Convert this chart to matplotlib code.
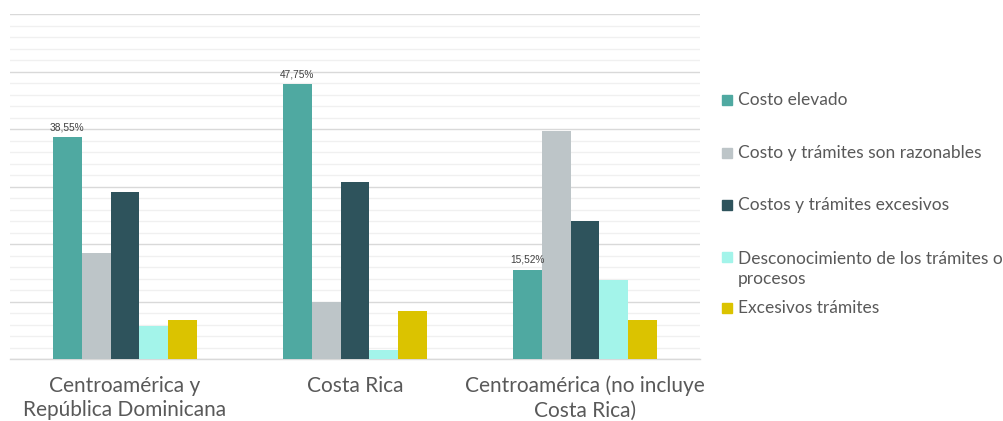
import matplotlib
matplotlib.use("Agg")
import matplotlib.pyplot as plt
import numpy as np
from matplotlib.patches import Rectangle
from matplotlib.ticker import MultipleLocator

categories = ["Centroamérica y\nRepública Dominicana", "Costa Rica", "Centroamérica (no incluye\nCosta Rica)"]
series_names = ["Costo elevado", "Costo y trámites son razonables", "Costos y trámites excesivos",
                "Desconocimiento de los trámites o\nprocesos", "Excesivos trámites"]
costo_elevado = [38.55, 47.75, 15.52]
costo_razonable = [18.5, 10.0, 39.7]
costos_excesivos = [29.05, 30.85, 24.05]
desconocimiento = [5.8, 1.57, 13.8]
excesivos_tramites = [6.8, 8.3, 6.8]
colors = ["#4FA9A1", "#BDC5C8", "#2E535C", "#A3F4EA", "#DBC300"]

values = [costo_elevado, costo_razonable, costos_excesivos, desconocimiento, excesivos_tramites]

W, H = 1004, 421
fig = plt.figure(figsize=(W / 100, H / 100), dpi=100)
ax = fig.add_axes([10 / W, (H - 359) / H, 690 / W, 345 / H])

x = np.arange(len(categories))
bw = 0.126
for i, (vals, col) in enumerate(zip(values, colors)):
    pos = x + (i - 2) * bw
    bars = ax.bar(pos, vals, width=bw, color=col, linewidth=0, zorder=3)
    if i == 0:
        for b, v in zip(bars, vals):
            ax.text(b.get_x() + b.get_width() / 2, v + 0.9, f"{v:.2f}%".replace(".", ","),
                    ha="center", va="bottom", fontsize=7.3,
                    color="#404040", family="Liberation Sans", zorder=4)

ax.set_xlim(-0.5, 2.5)
ax.set_ylim(0, 60)
ax.yaxis.set_major_locator(MultipleLocator(10))
ax.yaxis.set_minor_locator(MultipleLocator(2))
ax.grid(axis="y", which="major", color="#D9D9D9", linewidth=1.0, zorder=0)
ax.grid(axis="y", which="minor", color="#F0F0F0", linewidth=1.0, zorder=0)
for s in ["top", "right", "left"]:
    ax.spines[s].set_visible(False)
ax.spines["bottom"].set_color("#D9D9D9")
ax.spines["bottom"].set_linewidth(1.0)
ax.tick_params(axis="y", which="both", left=False, labelleft=False)
ax.tick_params(axis="x", length=0, pad=12)
ax.set_xticks(x)
ax.set_xticklabels(categories, fontsize=15, color="#595959", family="Lato",
                   fontweight="normal", linespacing=1.3)

# legend
leg_y = [100, 153, 205, 269, 308]
for name, col, yy in zip(series_names, colors, leg_y):
    sq_y = 257 if "\n" in name else yy
    fig.patches.append(Rectangle((722 / W, (H - sq_y - 5) / H), 10 / W, 10 / H,
                                 transform=fig.transFigure, color=col, figure=fig))
    fig.text(738 / W, (H - yy) / H, name, fontsize=12.5, color="#595959", family="Lato",
             fontweight="normal", va="center", ha="left", linespacing=1.35)

fig.savefig("out.png", dpi=100)
